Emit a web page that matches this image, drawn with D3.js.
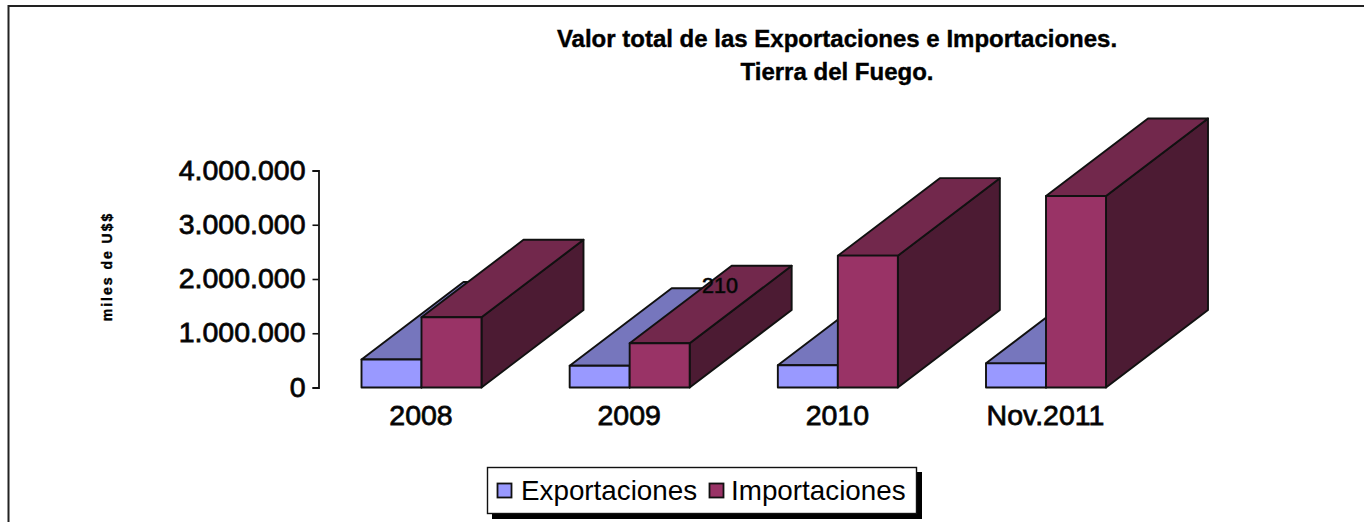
<!DOCTYPE html>
<html><head><meta charset="utf-8">
<script src="https://cdn.jsdelivr.net/npm/d3@7"></script>
<style>html,body{margin:0;padding:0;background:#fff}svg{display:block}text{font-family:"Liberation Sans",Arial,sans-serif;fill:#000}</style>
</head><body><svg id="c" width="1364" height="522"></svg>
<script>
const categories = ["2008","2009","2010","Nov.2011"];
const exportaciones = [515000,400000,410000,445000];
const importaciones = [1294000,815000,2430000,3530000];
const yTicks = [0,1000000,2000000,3000000,4000000];
const tickLabels = ["0","1.000.000","2.000.000","3.000.000","4.000.000"];
const seriesNames = ["Exportaciones","Importaciones"];
const titleLines = ["Valor total de las Exportaciones e Importaciones.","Tierra del Fuego."];
const palette = [{front:"#9999ff",top:"#7676bd",side:"#5a5a94"},{front:"#993366",top:"#72284c",side:"#4c1b33"}];

const svg = d3.select("#c");
svg.append("path").attr("d","M8.5,540V6H1364").attr("fill","none").attr("stroke","#222").attr("stroke-width",2);

const y = d3.scaleLinear().domain([0,4000000]).range([387.5,170.5]);
const xCat = d3.scalePoint().domain(categories).range([421.5,1046]);
const xSeries = d3.scaleBand().domain([0,1]).range([-60,60]);
const dx = 102, dy = -77.5;

const plot = svg.append("g");
[exportaciones,importaciones].forEach((vals,s)=>{
  const g = plot.append("g");
  categories.forEach((c,i)=>{
    const xl = xCat(c)+xSeries(s), xr = xl+xSeries.bandwidth(), yt = y(vals[i]), yb = y(0);
    const poly = (pts,fill)=>g.append("polygon").attr("points",pts.map(d=>d.join(",")).join(" ")).attr("fill",fill)
      .attr("stroke","#111").attr("stroke-width",1.9).attr("stroke-linejoin","round");
    poly([[xr,yb],[xr+dx,yb+dy],[xr+dx,yt+dy],[xr,yt]],palette[s].side);
    poly([[xl,yt],[xl+dx,yt+dy],[xr+dx,yt+dy],[xr,yt]],palette[s].top);
    poly([[xl,yb],[xr,yb],[xr,yt],[xl,yt]],palette[s].front);
  });
});

const axis = d3.axisLeft(y).tickValues(yTicks).tickSize(6).tickPadding(7)
  .tickFormat((d,i)=>tickLabels[i]);
const ax = svg.append("g").attr("transform","translate(318.5,0)").call(axis);
ax.select(".domain").attr("stroke","#111").attr("stroke-width",1.8);
ax.selectAll(".tick line").attr("stroke","#111").attr("stroke-width",1.6);
ax.selectAll(".tick text").attr("font-size",28.5).attr("fill","#111")
  .style("font-family",'"Liberation Sans",Arial,sans-serif')
  .attr("stroke","#111").attr("stroke-width",0.8).attr("dy","0.3em");

svg.append("g").selectAll("text").data(categories).join("text")
  .attr("x",d=>xCat(d)-0.5).attr("y",425).attr("text-anchor","middle")
  .attr("font-size",28.5).attr("stroke","#111").attr("stroke-width",0.8).text(d=>d);

svg.append("g").selectAll("text").data(titleLines).join("text")
  .attr("x",837).attr("y",(d,i)=>47+i*32.5).attr("text-anchor","middle")
  .attr("font-size",24).attr("font-weight",700).attr("stroke","#000").attr("stroke-width",0.4).text(d=>d);

svg.append("text").attr("transform","translate(112,266.5) rotate(-90)").attr("text-anchor","middle")
  .attr("font-size",14).attr("font-weight",700).attr("letter-spacing",2).attr("stroke","#000").attr("stroke-width",0.4).text("miles de U$$");

svg.append("text").attr("x",702).attr("y",293).attr("font-size",21.5)
  .attr("fill","#111").attr("stroke","#111").attr("stroke-width",0.7).text("210");

const lg = svg.append("g");
lg.append("rect").attr("x",492).attr("y",472).attr("width",430).attr("height",47).attr("fill","#000");
lg.append("rect").attr("x",487.5).attr("y",467.5).attr("width",429).attr("height",46).attr("fill","#fff").attr("stroke","#111").attr("stroke-width",1.4);
const lx = [497.5,709.5], tx=[521,731];
seriesNames.forEach((n,i)=>{
  lg.append("rect").attr("x",lx[i]).attr("y",483.5).attr("width",14).attr("height",14).attr("fill",palette[i].front).attr("stroke","#111").attr("stroke-width",1.8);
  lg.append("text").attr("x",tx[i]).attr("y",499.5).attr("font-size",27.8).attr("fill","#111").text(n);
});
</script></body></html>
